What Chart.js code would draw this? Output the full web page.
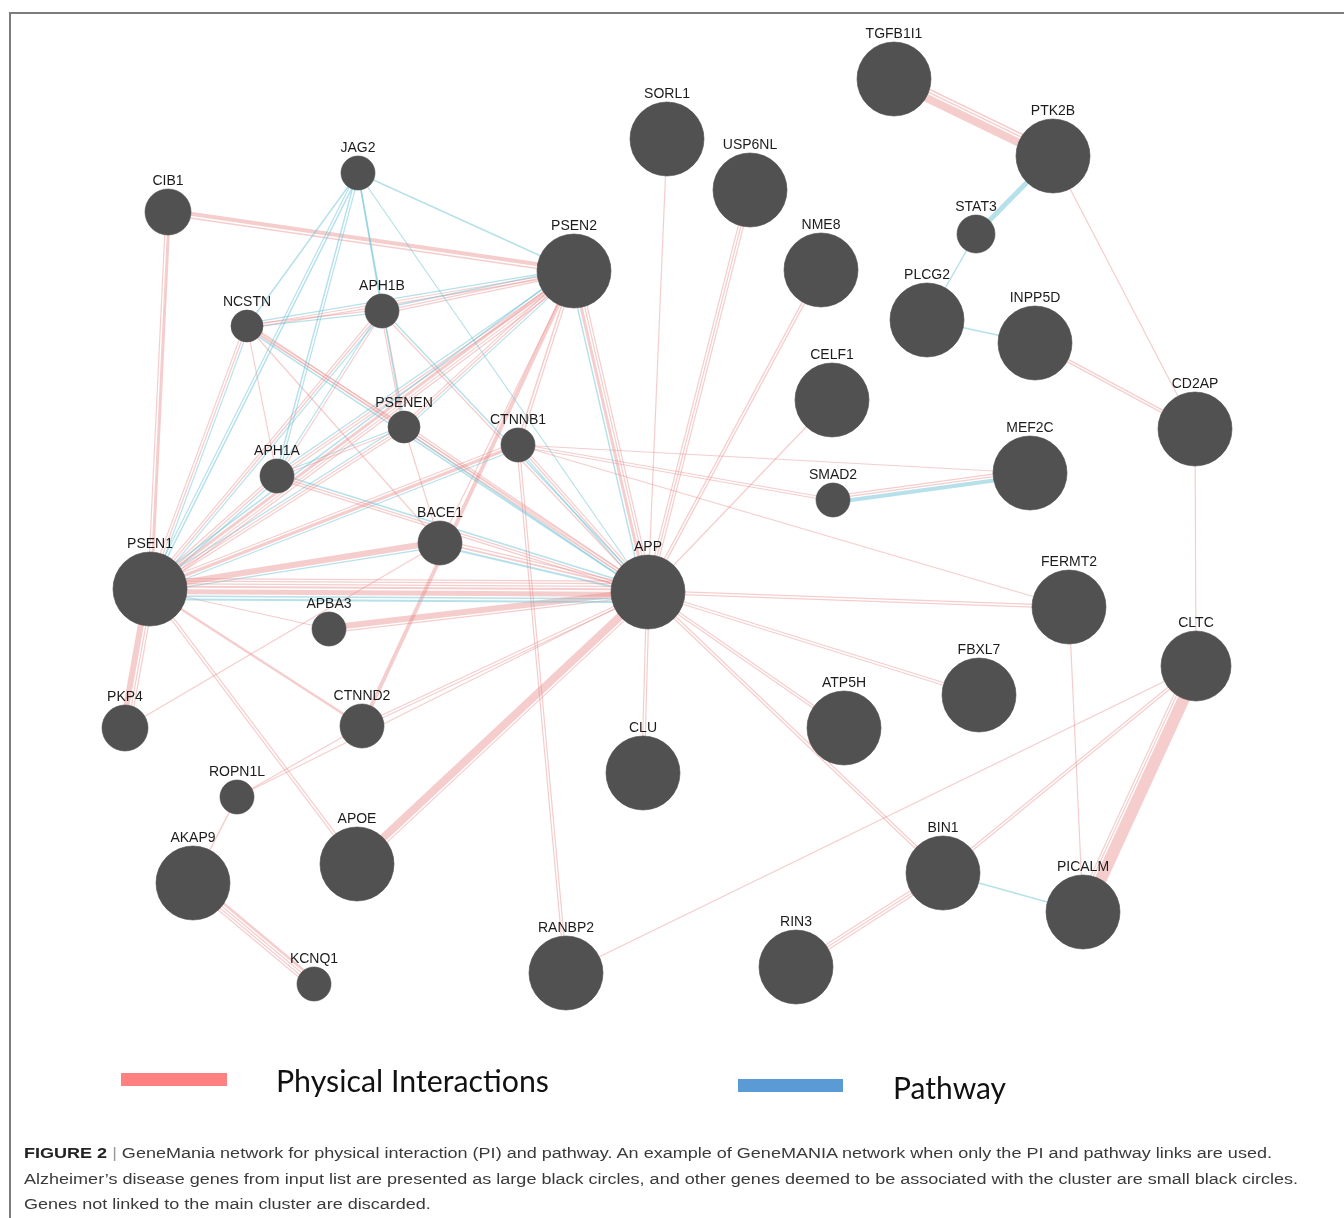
<!DOCTYPE html>
<html>
<head>
<meta charset="utf-8">
<script src="https://cdn.jsdelivr.net/npm/chart.js@4.4.1/dist/chart.umd.min.js"></script>
<style>
  html, body { margin: 0; padding: 0; background: #fff; }
  body { width: 1344px; height: 1218px; position: relative; overflow: hidden;
         font-family: "Liberation Sans", Arial, sans-serif; }
  #frame { position: absolute; left: 9px; top: 12px; width: 1400px; height: 1300px;
           border-top: 2px solid #7d7d7d; border-left: 2px solid #7d7d7d; }
  #net { position: absolute; left: 0; top: 0; }
  .swatch { position: absolute; }
  .keytext { position: absolute; font-family: Lato, "Open Sans", sans-serif; font-size: 30px;
             line-height: 36px; color: #111; white-space: nowrap; transform-origin: 0 50%; }
  .cap { position: absolute; left: 24px; white-space: nowrap; color: #3a3a3a; font-size: 15.5px;
         line-height: 18px; transform-origin: 0 50%; }
  .cap b { color: #222; }
  .cap .bar { color: #9a9a9a; }
</style>
</head>
<body>
<div id="frame"></div>
<canvas id="net" width="1344" height="1218"></canvas>

<div class="swatch" style="left:121px;top:1073px;width:106px;height:13px;background:#ff8080"></div>
<div class="keytext" id="keyPI" style="left:276px;top:1062px">Physical Interactions</div>
<div class="swatch" style="left:738px;top:1079px;width:105px;height:13px;background:#5b9bd5"></div>
<div class="keytext" id="keyPW" style="left:893px;top:1069px">Pathway</div>

<div class="cap" id="cap1" style="top:1144px"><b>FIGURE 2</b> <span class="bar">|</span> GeneMania network for physical interaction (PI) and pathway. An example of GeneMANIA network when only the PI and pathway links are used.</div>
<div class="cap" id="cap2" style="top:1170px">Alzheimer’s disease genes from input list are presented as large black circles, and other genes deemed to be associated with the cluster are small black circles.</div>
<div class="cap" id="cap3" style="top:1195px">Genes not linked to the main cluster are discarded.</div>

<script>
// ---- genes (network layout coordinates and node score) ----
const geneNames = ['TGFB1I1','PTK2B','SORL1','USP6NL','STAT3','NME8','PSEN2','JAG2','CIB1','NCSTN',
  'APH1B','PLCG2','INPP5D','CELF1','CD2AP','PSENEN','CTNNB1','APH1A','MEF2C','SMAD2',
  'BACE1','PSEN1','APP','APBA3','FERMT2','CLTC','FBXL7','PKP4','CTNND2','ATP5H',
  'CLU','ROPN1L','BIN1','APOE','AKAP9','PICALM','RIN3','RANBP2','KCNQ1'];
const geneX = [894,1053,667,750,976,821,574,358,168,247,
  382,927,1035,832,1195,404,518,277,1030,833,
  440,150,648,329,1069,1196,979,125,362,844,
  643,237,943,357,193,1083,796,566,314];
const geneY = [79,156,139,190,234,270,271,173,212,326,
  311,320,343,400,429,427,445,476,473,500,
  543,589,592,629,607,666,695,728,726,728,
  773,797,873,864,883,912,967,973,984];
const geneSize = [37,37,37,37,19,37,37,17,23,16,
  17,37,37,37,37,16,17,17,37,17,
  22,37,37,17,37,35,37,23,22,37,
  37,17,37,37,37,37,37,37,17];

// ---- links: [gene A, gene B, weight] ----
const physicalLinks = [
  ['TGFB1I1','PTK2B',8],['TGFB1I1','PTK2B',1.5],['TGFB1I1','PTK2B',1.5],
  ['PTK2B','CD2AP',1.2],
  ['INPP5D','CD2AP',1.2],['INPP5D','CD2AP',1.2],
  ['CD2AP','CLTC',1.2],
  ['CLTC','PICALM',12],['CLTC','PICALM',1.2],['CLTC','PICALM',1.2],
  ['CLTC','BIN1',1.2],['CLTC','BIN1',1.2],
  ['CLTC','RANBP2',1.2],
  ['FERMT2','PICALM',1.2],
  ['BIN1','RIN3',1.2],['BIN1','RIN3',1.2],['BIN1','RIN3',1.2],
  ['SMAD2','MEF2C',1.2],['SMAD2','MEF2C',1.2],
  ['CTNNB1','SMAD2',1.2],['CTNNB1','SMAD2',1.2],
  ['CTNNB1','MEF2C',1.2],
  ['CTNNB1','FERMT2',1.2],
  ['APP','FERMT2',1.2],['APP','FERMT2',1.2],
  ['APP','FBXL7',1.2],['APP','FBXL7',1.2],
  ['APP','ATP5H',1.2],['APP','ATP5H',1.2],
  ['APP','BIN1',1.2],['APP','BIN1',1.2],
  ['APP','CLU',1.2],['APP','CLU',1.2],
  ['SORL1','APP',1.2],
  ['USP6NL','APP',1.2],['USP6NL','APP',1.2],['USP6NL','APP',1.2],
  ['NME8','APP',1.2],['NME8','APP',1.2],
  ['CELF1','APP',1.2],
  ['CTNNB1','RANBP2',1.2],['CTNNB1','RANBP2',1.2],
  ['AKAP9','KCNQ1',2.5],['AKAP9','KCNQ1',1.2],['AKAP9','KCNQ1',1.2],['AKAP9','KCNQ1',1.2],
  ['AKAP9','ROPN1L',1.5],
  ['ROPN1L','CTNND2',1.2],['ROPN1L','APP',1.2],
  ['APP','APOE',8],['APP','APOE',1.2],
  ['PSEN1','APOE',1.2],['PSEN1','APOE',1.2],
  ['PSEN1','PKP4',6],['PSEN1','PKP4',1.2],['PSEN1','PKP4',1.2],
  ['PKP4','BACE1',1.2],
  ['CIB1','PSEN2',4],['CIB1','PSEN2',1.5],
  ['CIB1','PSEN1',3],['CIB1','PSEN1',1.2],
  ['PSEN1','APP',5],['PSEN1','APP',2],['PSEN1','APP',1.2],['PSEN1','APP',1.2],['PSEN1','APP',1.2],
  ['PSEN2','APP',3],['PSEN2','APP',1.2],['PSEN2','APP',1.2],
  ['PSEN1','PSEN2',3],['PSEN1','PSEN2',1.2],['PSEN1','PSEN2',1.2],
  ['APBA3','APP',6],['APBA3','APP',1.2],['APBA3','PSEN1',1.2],
  ['BACE1','PSEN1',6],['BACE1','APP',2],['BACE1','APP',1.2],['BACE1','PSEN2',1.2],
  ['CTNNB1','PSEN1',3],['CTNNB1','PSEN1',1.2],['CTNNB1','PSEN2',1.5],['CTNNB1','PSEN2',1.2],
  ['CTNNB1','APP',1.2],['CTNNB1','APP',1.2],
  ['CTNND2','PSEN1',2.5],['CTNND2','PSEN2',4],['CTNND2','APP',1.2],['CTNND2','APP',1.2],
  ['PSEN1','NCSTN',1.2],['PSEN1','NCSTN',1.2],
  ['PSEN1','APH1A',1.2],['PSEN1','APH1A',1.2],
  ['PSEN1','APH1B',1.2],['PSEN1','APH1B',1.2],
  ['PSEN1','PSENEN',1.2],['PSEN1','PSENEN',1.2],
  ['PSEN2','NCSTN',1.2],['PSEN2','NCSTN',1.2],
  ['PSEN2','APH1A',1.2],['PSEN2','APH1A',1.2],
  ['PSEN2','APH1B',1.2],['PSEN2','APH1B',1.2],
  ['PSEN2','PSENEN',1.2],['PSEN2','PSENEN',1.2],
  ['NCSTN','APH1A',1.2],['NCSTN','APH1B',1.2],['NCSTN','PSENEN',1.2],['NCSTN','PSENEN',1.2],
  ['APH1A','APH1B',1.2],['APH1A','PSENEN',1.2],['APH1B','PSENEN',1.2],['APH1B','PSENEN',1.2],
  ['NCSTN','APP',1.2],['NCSTN','APP',1.2],
  ['APH1A','APP',1.2],['APH1A','APP',1.2],
  ['APH1B','APP',1.2],
  ['PSENEN','APP',1.2],['PSENEN','APP',1.2],
  ['NCSTN','BACE1',1.2],['PSENEN','BACE1',1.2]
];

const pathwayLinks = [
  ['PTK2B','STAT3',5],
  ['STAT3','PLCG2',1.5],
  ['PLCG2','INPP5D',1.5],
  ['BIN1','PICALM',1.5],
  ['SMAD2','MEF2C',4],
  ['JAG2','NCSTN',1.5],['JAG2','APH1A',1.5],['JAG2','APH1A',1.2],['JAG2','APH1B',1.5],
  ['JAG2','PSENEN',1.5],['JAG2','PSEN1',1.5],['JAG2','PSEN1',1.2],['JAG2','PSEN2',1.5],
  ['JAG2','APP',1.2],
  ['PSEN1','PSEN2',1.5],['PSEN1','NCSTN',1.2],['PSEN1','APH1A',1.2],['PSEN1','APH1B',1.2],
  ['PSEN1','PSENEN',1.2],['PSEN2','NCSTN',1.2],['PSEN2','APH1A',1.2],['PSEN2','APH1B',1.5],
  ['PSEN2','PSENEN',1.2],['NCSTN','APH1B',1.2],['APH1A','APH1B',1.2],['APH1A','PSENEN',1.2],
  ['PSEN1','APP',2],['PSEN1','APP',1.5],['PSEN2','APP',1.5],
  ['NCSTN','APP',1.5],['APH1A','APP',1.5],['APH1B','APP',1.5],['PSENEN','APP',1.5],
  ['BACE1','APP',2],['BACE1','PSEN1',1.2],
  ['CTNNB1','PSEN1',1.2],['CTNNB1','APP',1.2]
];

// ---- colours ----
const physicalColor = 'rgba(232,135,135,0.42)';
const pathwayColor  = 'rgba(110,196,214,0.5)';
const nodeColor     = '#515151';

// ---- build one line dataset per link; parallel links between the same pair sit side by side ----
const geneIndex = {};
geneNames.forEach((g, i) => { geneIndex[g] = i; });

const links = [
  ...pathwayLinks.map(l => ({ a: l[0], b: l[1], w: l[2], kind: 'pathway' })),
  ...physicalLinks.map(l => ({ a: l[0], b: l[1], w: l[2], kind: 'physical' }))
];
const bundles = {};
links.forEach(l => {
  const key = [l.a, l.b].sort().join('|');
  (bundles[key] = bundles[key] || []).push(l);
});

const linkDatasets = [];
Object.keys(bundles).forEach(key => {
  const [ga, gb] = key.split('|');
  const ia = geneIndex[ga], ib = geneIndex[gb];
  const ax = geneX[ia], ay = geneY[ia], bx = geneX[ib], by = geneY[ib];
  const len = Math.hypot(bx - ax, by - ay) || 1;
  const nx = -(by - ay) / len, ny = (bx - ax) / len;
  const list = bundles[key];
  const gap = 1.4;
  const total = list.reduce((s, l) => s + l.w, 0) + gap * (list.length - 1);
  let cur = -total / 2;
  list.forEach(l => {
    const off = cur + l.w / 2;
    cur += l.w + gap;
    linkDatasets.push({
      type: 'line',
      label: l.a + ' – ' + l.b,
      data: [{ x: ax + nx * off, y: ay + ny * off }, { x: bx + nx * off, y: by + ny * off }],
      borderColor: l.kind === 'physical' ? physicalColor : pathwayColor,
      borderWidth: l.w,
      borderCapStyle: 'butt',
      pointRadius: 0,
      fill: false,
      tension: 0,
      clip: false,
      order: 2
    });
  });
});

const nodeDataset = {
  type: 'bubble',
  label: 'genes',
  data: geneNames.map((g, i) => ({ x: geneX[i], y: geneY[i], r: geneSize[i] })),
  backgroundColor: nodeColor,
  borderColor: '#4a4a4a',
  borderWidth: 0.6,
  hoverRadius: 0,
  clip: false,
  order: 0
};

// gene name above every node
const geneLabels = {
  id: 'geneLabels',
  afterDatasetsDraw(chart) {
    const idx = chart.data.datasets.indexOf(nodeDataset);
    const meta = chart.getDatasetMeta(idx);
    const ctx = chart.ctx;
    ctx.save();
    ctx.font = '14px "Liberation Sans", Arial, sans-serif';
    ctx.fillStyle = '#1c1c1c';
    ctx.textAlign = 'center';
    ctx.textBaseline = 'alphabetic';
    meta.data.forEach((el, i) => {
      ctx.fillText(geneNames[i], el.x, el.y - el.options.radius - 4);
    });
    ctx.restore();
  }
};

const chart = new Chart(document.getElementById('net'), {
  type: 'bubble',
  data: { datasets: [nodeDataset, ...linkDatasets] },
  options: {
    responsive: false,
    animation: false,
    events: [],
    layout: { padding: 0 },
    plugins: { legend: { display: false }, tooltip: { enabled: false } },
    scales: {
      x: { type: 'linear', min: 0, max: 1344, display: false },
      y: { type: 'linear', min: 0, max: 1218, reverse: true, display: false }
    }
  },
  plugins: [geneLabels]
});

// the bubble layer reserves room for the largest node; set the axis range so that
// one layout unit equals one pixel across the whole canvas
const area = chart.chartArea;
chart.options.scales.x.min = area.left;
chart.options.scales.x.max = area.right;
chart.options.scales.y.min = area.top;
chart.options.scales.y.max = area.bottom;
chart.update();

// squeeze the legend and caption text to their set widths
function fitWidth(id, target) {
  const el = document.getElementById(id);
  const w = el.getBoundingClientRect().width;
  el.style.transform = 'scaleX(' + (target / w) + ')';
}
fitWidth('keyPI', 273);
fitWidth('keyPW', 113);
const capScale = 1274 / document.getElementById('cap2').getBoundingClientRect().width;
['cap1', 'cap2', 'cap3'].forEach(id => {
  document.getElementById(id).style.transform = 'scaleX(' + capScale + ')';
});
</script>
</body>
</html>
